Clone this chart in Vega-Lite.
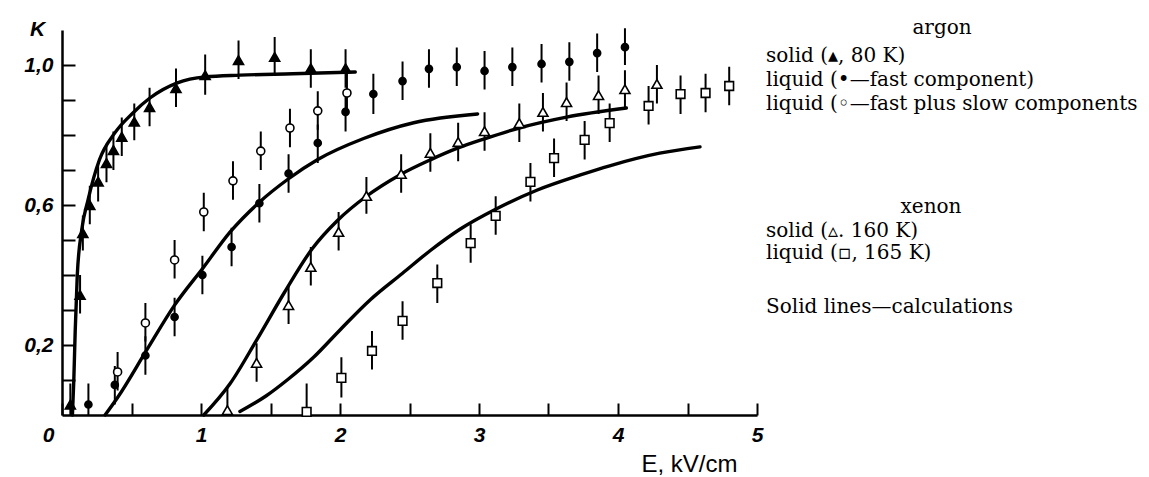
{
  "$schema": "https://vega.github.io/schema/vega-lite/v6.json",
  "width": 695,
  "height": 385,
  "autosize": {"type": "none"},
  "padding": {"left": 62, "top": 30, "right": 392, "bottom": 62},
  "background": "white",
  "config": {
    "view": {"stroke": null},
    "axis": {
      "grid": false,
      "domainColor": "black",
      "domainWidth": 2.5,
      "tickColor": "black",
      "tickWidth": 2,
      "labelColor": "black",
      "labelFont": "Liberation Sans",
      "labelFontStyle": "italic",
      "labelFontWeight": "bold",
      "labelFontSize": 21,
      "titleColor": "black"
    },
    "legend": {
      "orient": "none",
      "labelFont": "DejaVu Serif",
      "labelFontSize": 20,
      "labelColor": "black",
      "titleFont": "DejaVu Serif",
      "titleFontSize": 20,
      "titleFontWeight": "normal",
      "titleColor": "black",
      "symbolOpacity": 0,
      "symbolStrokeWidth": 0,
      "symbolSize": 0,
      "labelOffset": 0,
      "labelLimit": 0
    }
  },
  "datasets": {
    "points": [
      {"set": "ArS", "E": 0.06, "K": 0.03, "lo": 0.0, "hi": 0.09},
      {"set": "ArS", "E": 0.13, "K": 0.343, "lo": 0.29, "hi": 0.40},
      {"set": "ArS", "E": 0.15, "K": 0.52, "lo": 0.47, "hi": 0.57},
      {"set": "ArS", "E": 0.20, "K": 0.60, "lo": 0.545, "hi": 0.655},
      {"set": "ArS", "E": 0.26, "K": 0.667, "lo": 0.61, "hi": 0.72},
      {"set": "ArS", "E": 0.32, "K": 0.72, "lo": 0.665, "hi": 0.775},
      {"set": "ArS", "E": 0.37, "K": 0.757, "lo": 0.70, "hi": 0.81},
      {"set": "ArS", "E": 0.43, "K": 0.795, "lo": 0.74, "hi": 0.85},
      {"set": "ArS", "E": 0.52, "K": 0.838, "lo": 0.785, "hi": 0.89},
      {"set": "ArS", "E": 0.63, "K": 0.88, "lo": 0.825, "hi": 0.935},
      {"set": "ArS", "E": 0.82, "K": 0.934, "lo": 0.88, "hi": 0.99},
      {"set": "ArS", "E": 1.03, "K": 0.971, "lo": 0.915, "hi": 1.03},
      {"set": "ArS", "E": 1.27, "K": 1.014, "lo": 0.96, "hi": 1.07},
      {"set": "ArS", "E": 1.53, "K": 1.023, "lo": 0.97, "hi": 1.08},
      {"set": "ArS", "E": 1.79, "K": 0.991, "lo": 0.935, "hi": 1.045},
      {"set": "ArS", "E": 2.04, "K": 0.991, "lo": 0.935, "hi": 1.045},
      {"set": "ArF", "E": 0.19, "K": 0.03, "lo": 0.0, "hi": 0.09},
      {"set": "ArF", "E": 0.38, "K": 0.086, "lo": 0.03, "hi": 0.14},
      {"set": "ArF", "E": 0.60, "K": 0.17, "lo": 0.115, "hi": 0.225},
      {"set": "ArF", "E": 0.81, "K": 0.28, "lo": 0.225, "hi": 0.335},
      {"set": "ArF", "E": 1.01, "K": 0.40, "lo": 0.345, "hi": 0.455},
      {"set": "ArF", "E": 1.22, "K": 0.48, "lo": 0.425, "hi": 0.535},
      {"set": "ArF", "E": 1.42, "K": 0.605, "lo": 0.55, "hi": 0.66},
      {"set": "ArF", "E": 1.63, "K": 0.69, "lo": 0.635, "hi": 0.745},
      {"set": "ArF", "E": 1.84, "K": 0.777, "lo": 0.72, "hi": 0.83},
      {"set": "ArF", "E": 2.04, "K": 0.866, "lo": 0.81, "hi": 0.92},
      {"set": "ArF", "E": 2.24, "K": 0.917, "lo": 0.86, "hi": 0.975},
      {"set": "ArF", "E": 2.45, "K": 0.954, "lo": 0.90, "hi": 1.01},
      {"set": "ArF", "E": 2.64, "K": 0.989, "lo": 0.935, "hi": 1.045},
      {"set": "ArF", "E": 2.84, "K": 0.994, "lo": 0.94, "hi": 1.05},
      {"set": "ArF", "E": 3.04, "K": 0.983, "lo": 0.93, "hi": 1.04},
      {"set": "ArF", "E": 3.24, "K": 0.994, "lo": 0.94, "hi": 1.05},
      {"set": "ArF", "E": 3.45, "K": 1.003, "lo": 0.95, "hi": 1.06},
      {"set": "ArF", "E": 3.65, "K": 1.009, "lo": 0.955, "hi": 1.065},
      {"set": "ArF", "E": 3.85, "K": 1.034, "lo": 0.98, "hi": 1.09},
      {"set": "ArF", "E": 4.05, "K": 1.051, "lo": 1.0, "hi": 1.105},
      {"set": "ArT", "E": 0.40, "K": 0.123, "lo": 0.07, "hi": 0.18},
      {"set": "ArT", "E": 0.60, "K": 0.263, "lo": 0.21, "hi": 0.32},
      {"set": "ArT", "E": 0.81, "K": 0.443, "lo": 0.39, "hi": 0.50},
      {"set": "ArT", "E": 1.02, "K": 0.58, "lo": 0.525, "hi": 0.635},
      {"set": "ArT", "E": 1.23, "K": 0.669, "lo": 0.615, "hi": 0.725},
      {"set": "ArT", "E": 1.43, "K": 0.754, "lo": 0.70, "hi": 0.81},
      {"set": "ArT", "E": 1.64, "K": 0.82, "lo": 0.765, "hi": 0.875},
      {"set": "ArT", "E": 1.84, "K": 0.869, "lo": 0.815, "hi": 0.925},
      {"set": "ArT", "E": 2.05, "K": 0.92, "lo": 0.865, "hi": 0.975},
      {"set": "XeS", "E": 1.19, "K": 0.014, "lo": 0.0, "hi": 0.08},
      {"set": "XeS", "E": 1.40, "K": 0.149, "lo": 0.095, "hi": 0.205},
      {"set": "XeS", "E": 1.63, "K": 0.314, "lo": 0.26, "hi": 0.37},
      {"set": "XeS", "E": 1.79, "K": 0.423, "lo": 0.37, "hi": 0.48},
      {"set": "XeS", "E": 1.99, "K": 0.523, "lo": 0.47, "hi": 0.58},
      {"set": "XeS", "E": 2.19, "K": 0.626, "lo": 0.575, "hi": 0.68},
      {"set": "XeS", "E": 2.44, "K": 0.689, "lo": 0.635, "hi": 0.745},
      {"set": "XeS", "E": 2.65, "K": 0.749, "lo": 0.695, "hi": 0.805},
      {"set": "XeS", "E": 2.85, "K": 0.78, "lo": 0.725, "hi": 0.835},
      {"set": "XeS", "E": 3.04, "K": 0.811, "lo": 0.755, "hi": 0.865},
      {"set": "XeS", "E": 3.29, "K": 0.834, "lo": 0.78, "hi": 0.89},
      {"set": "XeS", "E": 3.46, "K": 0.866, "lo": 0.81, "hi": 0.92},
      {"set": "XeS", "E": 3.63, "K": 0.894, "lo": 0.84, "hi": 0.95},
      {"set": "XeS", "E": 3.86, "K": 0.914, "lo": 0.86, "hi": 0.97},
      {"set": "XeS", "E": 4.05, "K": 0.931, "lo": 0.875, "hi": 0.985},
      {"set": "XeS", "E": 4.28, "K": 0.946, "lo": 0.89, "hi": 1.0},
      {"set": "XeL", "E": 1.76, "K": 0.009, "lo": 0.0, "hi": 0.09},
      {"set": "XeL", "E": 2.01, "K": 0.106, "lo": 0.05, "hi": 0.165},
      {"set": "XeL", "E": 2.23, "K": 0.183, "lo": 0.13, "hi": 0.24},
      {"set": "XeL", "E": 2.45, "K": 0.269, "lo": 0.215, "hi": 0.325},
      {"set": "XeL", "E": 2.70, "K": 0.377, "lo": 0.32, "hi": 0.43},
      {"set": "XeL", "E": 2.94, "K": 0.491, "lo": 0.435, "hi": 0.545},
      {"set": "XeL", "E": 3.12, "K": 0.569, "lo": 0.515, "hi": 0.625},
      {"set": "XeL", "E": 3.37, "K": 0.666, "lo": 0.61, "hi": 0.72},
      {"set": "XeL", "E": 3.54, "K": 0.734, "lo": 0.68, "hi": 0.79},
      {"set": "XeL", "E": 3.76, "K": 0.786, "lo": 0.73, "hi": 0.84},
      {"set": "XeL", "E": 3.94, "K": 0.834, "lo": 0.78, "hi": 0.89},
      {"set": "XeL", "E": 4.22, "K": 0.883, "lo": 0.83, "hi": 0.94},
      {"set": "XeL", "E": 4.45, "K": 0.917, "lo": 0.86, "hi": 0.97},
      {"set": "XeL", "E": 4.63, "K": 0.92, "lo": 0.865, "hi": 0.975},
      {"set": "XeL", "E": 4.80, "K": 0.94, "lo": 0.885, "hi": 0.995}
    ],
    "curves": [
      {"curve": "ArS", "E": 0.075, "K": 0.0},
      {"curve": "ArS", "E": 0.085, "K": 0.1},
      {"curve": "ArS", "E": 0.095, "K": 0.24},
      {"curve": "ArS", "E": 0.11, "K": 0.4},
      {"curve": "ArS", "E": 0.142, "K": 0.529},
      {"curve": "ArS", "E": 0.187, "K": 0.614},
      {"curve": "ArS", "E": 0.27, "K": 0.73},
      {"curve": "ArS", "E": 0.38, "K": 0.806},
      {"curve": "ArS", "E": 0.51, "K": 0.863},
      {"curve": "ArS", "E": 0.63, "K": 0.905},
      {"curve": "ArS", "E": 0.83, "K": 0.949},
      {"curve": "ArS", "E": 1.03, "K": 0.966},
      {"curve": "ArS", "E": 1.28, "K": 0.971},
      {"curve": "ArS", "E": 1.66, "K": 0.975},
      {"curve": "ArS", "E": 2.11, "K": 0.98},
      {"curve": "ArL", "E": 0.31, "K": 0.0},
      {"curve": "ArL", "E": 0.40, "K": 0.05},
      {"curve": "ArL", "E": 0.61, "K": 0.186},
      {"curve": "ArL", "E": 0.81, "K": 0.314},
      {"curve": "ArL", "E": 1.02, "K": 0.423},
      {"curve": "ArL", "E": 1.21, "K": 0.523},
      {"curve": "ArL", "E": 1.42, "K": 0.608},
      {"curve": "ArL", "E": 1.63, "K": 0.675},
      {"curve": "ArL", "E": 1.84, "K": 0.73},
      {"curve": "ArL", "E": 2.17, "K": 0.79},
      {"curve": "ArL", "E": 2.53, "K": 0.835},
      {"curve": "ArL", "E": 2.99, "K": 0.86},
      {"curve": "XeS", "E": 1.02, "K": 0.0},
      {"curve": "XeS", "E": 1.21, "K": 0.09},
      {"curve": "XeS", "E": 1.40, "K": 0.214},
      {"curve": "XeS", "E": 1.60, "K": 0.35},
      {"curve": "XeS", "E": 1.80, "K": 0.475},
      {"curve": "XeS", "E": 1.98, "K": 0.555},
      {"curve": "XeS", "E": 2.19, "K": 0.625},
      {"curve": "XeS", "E": 2.43, "K": 0.686},
      {"curve": "XeS", "E": 2.65, "K": 0.729},
      {"curve": "XeS", "E": 2.85, "K": 0.763},
      {"curve": "XeS", "E": 3.04, "K": 0.789},
      {"curve": "XeS", "E": 3.29, "K": 0.82},
      {"curve": "XeS", "E": 3.63, "K": 0.851},
      {"curve": "XeS", "E": 4.06, "K": 0.877},
      {"curve": "XeL", "E": 1.28, "K": 0.01},
      {"curve": "XeL", "E": 1.47, "K": 0.055},
      {"curve": "XeL", "E": 1.62, "K": 0.1},
      {"curve": "XeL", "E": 1.81, "K": 0.165},
      {"curve": "XeL", "E": 2.0, "K": 0.243},
      {"curve": "XeL", "E": 2.22, "K": 0.33},
      {"curve": "XeL", "E": 2.45, "K": 0.405},
      {"curve": "XeL", "E": 2.65, "K": 0.47},
      {"curve": "XeL", "E": 2.86, "K": 0.53},
      {"curve": "XeL", "E": 3.13, "K": 0.59},
      {"curve": "XeL", "E": 3.42, "K": 0.643},
      {"curve": "XeL", "E": 3.73, "K": 0.686},
      {"curve": "XeL", "E": 3.94, "K": 0.712},
      {"curve": "XeL", "E": 4.30, "K": 0.748},
      {"curve": "XeL", "E": 4.59, "K": 0.766}
    ]
  },
  "encoding": {
    "x": {
      "field": "E",
      "type": "quantitative",
      "scale": {"domain": [0, 5], "nice": false, "zero": false},
      "axis": {
        "values": [0, 0.5, 1, 1.5, 2, 2.5, 3, 3.5, 4, 4.5, 5],
        "labelExpr": "datum.value % 1 === 0 ? format(datum.value, 'd') : ''",
        "labelAlign": {"condition": {"test": "datum.value === 0", "value": "right"}, "value": "center"},
        "labelOffset": {"condition": {"test": "datum.value === 0", "value": -8}, "value": 0},
        "tickSize": -12,
        "labelPadding": 21,
        "title": "E, kV/cm",
        "titleFont": "Liberation Sans",
        "titleFontSize": 24,
        "titleFontWeight": "normal",
        "titleAlign": "center",
        "titleBaseline": "middle",
        "titleX": 627,
        "titleY": 49
      }
    },
    "y": {
      "field": "K",
      "type": "quantitative",
      "scale": {"domain": [0, 1.1], "nice": false, "zero": false},
      "axis": {
        "values": [0.1, 0.2, 0.3, 0.4, 0.5, 0.6, 0.7, 0.8, 0.9, 1.0],
        "labelExpr": "abs(datum.value - 1) < 0.001 ? '1,0' : abs(datum.value - 0.6) < 0.001 ? '0,6' : abs(datum.value - 0.2) < 0.001 ? '0,2' : ''",
        "tickSize": -13,
        "labelPadding": 22,
        "title": "K",
        "titleAngle": 0,
        "titleFont": "Liberation Sans",
        "titleFontStyle": "italic",
        "titleFontWeight": "bold",
        "titleFontSize": 21,
        "titleAlign": "center",
        "titleBaseline": "middle",
        "titleX": -25,
        "titleY": -1
      }
    }
  },
  "layer": [
    {
      "data": {"name": "curves"},
      "mark": {"type": "line", "strokeWidth": 3.4, "interpolate": "monotone", "strokeCap": "round"},
      "encoding": {
        "detail": {"field": "curve"},
        "color": {
          "datum": "Solid lines—calculations",
          "scale": {"range": ["black"]},
          "legend": {"title": null, "legendX": 684, "legendY": 267}
        }
      }
    },
    {
      "data": {"name": "points"},
      "mark": {"type": "rule", "strokeWidth": 2, "color": "black"},
      "encoding": {
        "y": {"field": "lo", "type": "quantitative"},
        "y2": {"field": "hi"}
      }
    },
    {
      "data": {"name": "points"},
      "transform": [{"filter": "indexof(['ArS', 'ArF', 'ArT'], datum.set) >= 0"}],
      "mark": {"type": "point", "stroke": "black", "strokeWidth": 1.6, "opacity": 1},
      "encoding": {
        "shape": {
          "field": "set",
          "type": "nominal",
          "scale": {"domain": ["ArS", "ArF", "ArT"], "range": ["triangle-up", "circle", "circle"]},
          "legend": {
            "title": "argon",
            "titleAnchor": "middle",
            "titleAlign": "center",
            "titlePadding": 8,
            "rowPadding": 4,
            "legendX": 684,
            "legendY": -12,
            "labelExpr": "{'ArS': 'solid (▴, 80 K)', 'ArF': 'liquid (•—fast component)', 'ArT': 'liquid (◦—fast plus slow components'}[datum.label]"
          }
        },
        "fill": {"condition": {"test": "datum.set === 'ArT'", "value": "white"}, "value": "black"},
        "size": {"condition": [{"test": "datum.set === 'ArS'", "value": 100}, {"test": "datum.set === 'ArF'", "value": 50}], "value": 64}
      }
    },
    {
      "data": {"name": "points"},
      "transform": [{"filter": "indexof(['XeS', 'XeL'], datum.set) >= 0"}],
      "mark": {"type": "point", "stroke": "black", "strokeWidth": 1.6, "fill": "white", "opacity": 1, "filled": true},
      "encoding": {
        "shape": {
          "field": "set",
          "type": "nominal",
          "scale": {"domain": ["XeS", "XeL"], "range": ["triangle-up", "square"]},
          "legend": {
            "title": "xenon",
            "titleAnchor": "end",
            "titleAlign": "center",
            "titlePadding": 4,
            "rowPadding": 2,
            "legendX": 684,
            "legendY": 167,
            "labelExpr": "{'XeS': 'solid (▵. 160 K)', 'XeL': 'liquid (▫, 165 K)'}[datum.label]"
          }
        },
        "fill": {"value": "white"},
        "stroke": {"value": "black"},
        "size": {"condition": {"test": "datum.set === 'XeS'", "value": 100}, "value": 75}
      }
    }
  ],
  "resolve": {
    "scale": {"shape": "independent", "color": "independent", "fill": "independent"},
    "legend": {"shape": "independent"}
  }
}
